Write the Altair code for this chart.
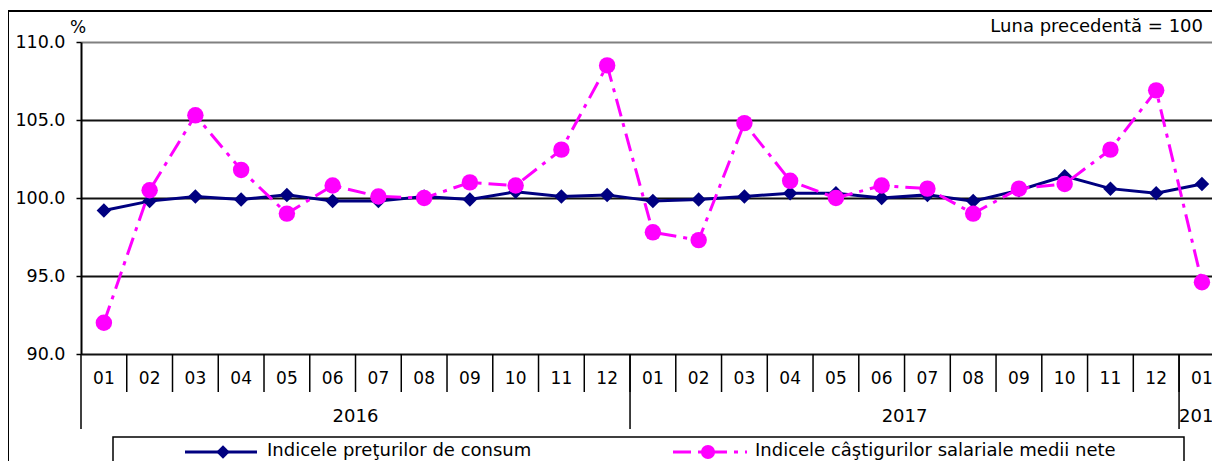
import altair as alt
import pandas as pd

# ---- data ----
months = ["01", "02", "03", "04", "05", "06", "07", "08", "09", "10", "11", "12",
          "01", "02", "03", "04", "05", "06", "07", "08", "09", "10", "11", "12",
          "01"]
year_labels = ["2016", "2017", "2018"]
year_lengths = [12, 12, 1]
cpi = [99.2, 99.8, 100.1, 99.9, 100.2, 99.8, 99.8, 100.1, 99.9, 100.4, 100.1, 100.2,
       99.8, 99.9, 100.1, 100.3, 100.3, 100.0, 100.2, 99.8, 100.5, 101.4, 100.6, 100.3,
       100.9]
wage = [92.0, 100.5, 105.3, 101.8, 99.0, 100.8, 100.1, 100.0, 101.0, 100.8, 103.1, 108.5,
        97.8, 97.3, 104.8, 101.1, 100.0, 100.8, 100.6, 99.0, 100.6, 100.9, 103.1, 106.9,
        94.6]
series_names = ["Indicele preţurilor de consum",
                "Indicele câştigurilor salariale medii nete"]
y_ticks = [90.0, 95.0, 100.0, 105.0, 110.0]
unit_label = "%"
base_note = "Luna precedentă = 100"

# ---- tables built from the arrays ----
idx = list(range(len(months)))
df = pd.DataFrame({"idx": idx, "month": months, "cpi": cpi, "wage": wage})

starts, s = [], 0
for n in year_lengths:
    starts.append(s)
    s += n
years_df = pd.DataFrame({
    "year": year_labels,
    "center": [st + (n - 1) / 2 for st, n in zip(starts, year_lengths)],
})
year_sep_df = pd.DataFrame({"b": [st - 0.5 for st in starts]})
month_sep_df = pd.DataFrame({"b": [i + 0.5 for i in idx[:-1]]})
one = pd.DataFrame({"k": [0]})

FONT = "DejaVu Sans"
NAVY = "#000080"
MAGENTA = "#FF00FF"
DASH = [18, 7, 4, 7]
W, H = 1131, 312

xscale = alt.Scale(domain=[-0.5, 24.22], nice=False, zero=False)
yscale = alt.Scale(domain=[90, 110], nice=False, zero=False)
yaxis = alt.Axis(
    values=y_ticks, format=".1f", title=None,
    labelFont=FONT, labelFontSize=17.5, labelColor="#000000", labelPadding=11,
    tickSize=5, tickColor="#000000", tickWidth=1.5,
    domainColor="#000000", domainWidth=2,
    grid=True, gridWidth=2,
    gridColor={"condition": {"test": "datum.value == 110", "value": "#808080"},
               "value": "#111111"},
)


def X(field):
    return alt.X(field, scale=xscale, axis=None)


# frame around the chart (cropped at right/bottom like the reference)
frame = alt.Chart(one).mark_rect(fill=None, stroke="#000000", strokeWidth=2).encode(
    x=alt.value(-73), x2=alt.value(W + 40), y=alt.value(-31), y2=alt.value(H + 200)
)

# category separators
month_sep = alt.Chart(month_sep_df).mark_rule(color="#000000", strokeWidth=1.5).encode(
    x=X("b:Q"), y=alt.value(H), y2=alt.value(H + 38)
)
year_sep = alt.Chart(year_sep_df).mark_rule(color="#000000", strokeWidth=1.5).encode(
    x=X("b:Q"), y=alt.value(H), y2=alt.value(H + 75)
)
month_text = alt.Chart(df).mark_text(font=FONT, fontSize=17, baseline="middle",
                                     align="center", color="#000000").encode(
    x=X("idx:Q"), y=alt.value(H + 25), text="month:N"
)
year_text = alt.Chart(years_df).mark_text(font=FONT, fontSize=18, baseline="middle",
                                          align="center", color="#000000").encode(
    x=X("center:Q"), y=alt.value(H + 63), text="year:N"
)

cpi_line = alt.Chart(df).mark_line(color=NAVY, strokeWidth=3).encode(
    x=X("idx:Q"), y=alt.Y("cpi:Q", scale=yscale, axis=yaxis)
)
cpi_pts = alt.Chart(df).mark_point(shape="diamond", filled=True, size=210, color=NAVY,
                                   opacity=1).encode(
    x=X("idx:Q"), y=alt.Y("cpi:Q", scale=yscale, axis=yaxis)
)
wage_line = alt.Chart(df).mark_line(color=MAGENTA, strokeWidth=3, strokeDash=DASH).encode(
    x=X("idx:Q"), y=alt.Y("wage:Q", scale=yscale, axis=yaxis)
)
wage_pts = alt.Chart(df).mark_point(shape="circle", filled=True, size=270, color=MAGENTA,
                                    opacity=1).encode(
    x=X("idx:Q"), y=alt.Y("wage:Q", scale=yscale, axis=yaxis)
)

# annotations
unit_df = pd.DataFrame({"t": [unit_label]})
note_df = pd.DataFrame({"t": [base_note]})
unit_text = alt.Chart(unit_df).mark_text(font=FONT, fontSize=17, align="center",
                                         baseline="alphabetic", color="#000000").encode(
    x=alt.value(-3), y=alt.value(-9), text="t:N"
)
note_text = alt.Chart(note_df).mark_text(font=FONT, fontSize=18, align="right",
                                         baseline="alphabetic", color="#000000").encode(
    x=alt.value(1122), y=alt.value(-10), text="t:N"
)

# custom legend
leg_box = alt.Chart(one).mark_rect(fill="#ffffff", stroke="#000000", strokeWidth=1.5).encode(
    x=alt.value(32), x2=alt.value(1103), y=alt.value(H + 83), y2=alt.value(H + 200)
)
leg1_line = alt.Chart(one).mark_rule(color=NAVY, strokeWidth=3).encode(
    x=alt.value(104), x2=alt.value(176), y=alt.value(H + 98)
)
leg1_pt = alt.Chart(one).mark_point(shape="diamond", filled=True, size=180, color=NAVY,
                                    opacity=1).encode(
    x=alt.value(142), y=alt.value(H + 98)
)
leg2_line = alt.Chart(one).mark_rule(color=MAGENTA, strokeWidth=3, strokeDash=DASH).encode(
    x=alt.value(592), x2=alt.value(666), y=alt.value(H + 98)
)
leg2_pt = alt.Chart(one).mark_point(shape="circle", filled=True, size=200, color=MAGENTA,
                                    opacity=1).encode(
    x=alt.value(627), y=alt.value(H + 98)
)
leg_df1 = pd.DataFrame({"t": [series_names[0]]})
leg_df2 = pd.DataFrame({"t": [series_names[1]]})
leg1_text = alt.Chart(leg_df1).mark_text(font=FONT, fontSize=18, align="left",
                                         baseline="middle", color="#000000").encode(
    x=alt.value(186), y=alt.value(H + 97), text="t:N"
)
leg2_text = alt.Chart(leg_df2).mark_text(font=FONT, fontSize=18, align="left",
                                         baseline="middle", color="#000000").encode(
    x=alt.value(674), y=alt.value(H + 97), text="t:N"
)

chart = alt.layer(
    frame, month_sep, year_sep, month_text, year_text,
    cpi_line, cpi_pts, wage_line, wage_pts,
    unit_text, note_text,
    leg_box, leg1_line, leg1_pt, leg2_line, leg2_pt, leg1_text, leg2_text,
).properties(
    width=W, height=H,
    autosize=alt.AutoSizeParams(type="none"),
    padding={"left": 73, "top": 34, "right": 0, "bottom": 107},
    background="#ffffff",
).configure_view(stroke=None)

chart.save("out.html", embed_options={"renderer": "svg", "actions": False})
